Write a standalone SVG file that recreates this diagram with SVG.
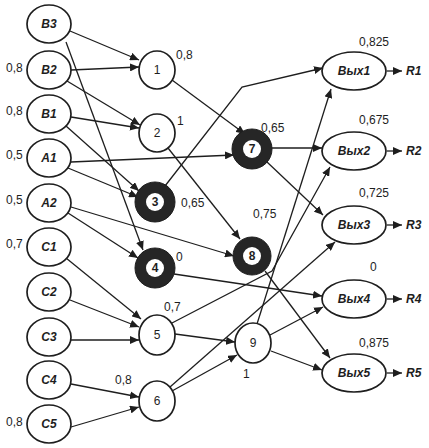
<svg xmlns="http://www.w3.org/2000/svg" width="429" height="448" viewBox="0 0 429 448">
<defs>
<marker id="ah" markerUnits="userSpaceOnUse" markerWidth="10" markerHeight="8" refX="9" refY="4" orient="auto">
<path d="M0,0 L9,4 L0,8 z" fill="#1e1e1e"/>
</marker>
<style>
.n{fill:#fff;stroke:#1e1e1e;stroke-width:1.7}
.d{fill:#262626;stroke:#1e1e1e;stroke-width:1}
.w{fill:#fff;stroke:none}
.c{fill:none;stroke:#1e1e1e;stroke-width:1.3;marker-end:url(#ah)}
.p{fill:none;stroke:#1e1e1e;stroke-width:1.3}
text{font-family:"Liberation Sans",Arial,sans-serif;font-size:12px;fill:#1e1e1e}
.bi{font-weight:bold;font-style:italic;text-anchor:middle}
.m{text-anchor:middle}
.b{font-weight:bold;text-anchor:middle}
.r{font-weight:bold;font-style:italic}
</style>
</defs>
<rect width="429" height="448" fill="#fff"/>
<g id="connectors">
<path class="c" d="M70,31 L139,60"/>
<path class="c" d="M71,70 L139,67"/>
<path class="c" d="M67,81 L140,125"/>
<path class="c" d="M71,117 L139,128"/>
<path class="c" d="M66,126 L139,191"/>
<path class="c" d="M66,42 L143,250"/>
<path class="c" d="M71,162 L234,155"/>
<path class="c" d="M68,168 L138,197"/>
<path class="c" d="M71,207 L234,256"/>
<path class="c" d="M68,213 L138,258"/>
<path class="c" d="M66,258 L141,319"/>
<path class="c" d="M70,300 L139,327"/>
<path class="c" d="M71,340 L139,340"/>
<path class="c" d="M71,384 L139,397"/>
<path class="c" d="M71,427 L139,407"/>
<path class="c" d="M172,80 L245,134"/>
<path class="c" d="M168,148 L240,239"/>
<path class="c" d="M165,186 L242,87 L323,68"/>
<path class="c" d="M174,274 L322,296"/>
<path class="c" d="M271,148 L322,148"/>
<path class="c" d="M267,162 L323,215"/>
<path class="c" d="M265,271 L330,358"/>
<path class="c" d="M172,323 L272,271 L330,167"/>
<path class="c" d="M175,334 L235,342"/>
<path class="c" d="M172,391 L237,355"/>
<path class="c" d="M170,387 L335,242"/>
<path class="c" d="M257,324 L331,89"/>
<path class="c" d="M270,335 L323,307"/>
<path class="c" d="M271,351 L322,370"/>
<path class="c" d="M387,71 L402,71"/>
<path class="c" d="M387,151 L402,151"/>
<path class="c" d="M387,225 L402,225"/>
<path class="c" d="M387,299 L402,299"/>
<path class="c" d="M387,373 L402,373"/>
</g>
<g id="B3"><ellipse class="n" cx="49" cy="24" rx="22" ry="19"/><text class="bi" x="49" y="28">B3</text></g>
<g id="B2"><ellipse class="n" cx="49" cy="70" rx="22" ry="19"/><text class="bi" x="49" y="74">B2</text></g>
<g id="B1"><ellipse class="n" cx="49" cy="114" rx="22" ry="19"/><text class="bi" x="49" y="118">B1</text></g>
<g id="A1"><ellipse class="n" cx="49" cy="158" rx="22" ry="19"/><text class="bi" x="49" y="162">A1</text></g>
<g id="A2"><ellipse class="n" cx="49" cy="203" rx="22" ry="19"/><text class="bi" x="49" y="207">A2</text></g>
<g id="C1"><ellipse class="n" cx="49" cy="247" rx="22" ry="19"/><text class="bi" x="49" y="251">C1</text></g>
<g id="C2"><ellipse class="n" cx="49" cy="292" rx="22" ry="19"/><text class="bi" x="49" y="296">C2</text></g>
<g id="C3"><ellipse class="n" cx="49" cy="337" rx="22" ry="19"/><text class="bi" x="49" y="341">C3</text></g>
<g id="C4"><ellipse class="n" cx="49" cy="380" rx="22" ry="19"/><text class="bi" x="49" y="384">C4</text></g>
<g id="C5"><ellipse class="n" cx="49" cy="424" rx="22" ry="19"/><text class="bi" x="49" y="428">C5</text></g>
<g id="N1"><ellipse class="n" cx="157" cy="70" rx="18" ry="19"/><text class="m" x="157" y="74">1</text></g>
<g id="N2"><ellipse class="n" cx="157" cy="133" rx="18" ry="19"/><text class="m" x="157" y="137">2</text></g>
<g id="N3"><circle class="d" cx="155" cy="202" r="20"/><circle class="w" cx="155" cy="202" r="9"/><text class="b" x="155" y="206">3</text></g>
<g id="N4"><circle class="d" cx="155" cy="268" r="20"/><circle class="w" cx="155" cy="268" r="9"/><text class="b" x="155" y="272">4</text></g>
<g id="N5"><ellipse class="n" cx="157" cy="335" rx="18" ry="20"/><text class="m" x="157" y="339">5</text></g>
<g id="N6"><ellipse class="n" cx="157" cy="401" rx="18" ry="20"/><text class="m" x="157" y="405">6</text></g>
<g id="N7"><circle class="d" cx="252" cy="149" r="20"/><circle class="w" cx="252" cy="149" r="9"/><text class="b" x="252" y="153">7</text></g>
<g id="N8"><circle class="d" cx="252" cy="256" r="19"/><circle class="w" cx="252" cy="256" r="9"/><text class="b" x="252" y="260">8</text></g>
<g id="N9"><ellipse class="n" cx="253" cy="343" rx="18" ry="20"/><text class="m" x="253" y="347">9</text></g>
<g id="Out1"><ellipse class="n" cx="354" cy="71" rx="32" ry="19"/><text class="bi" x="354" y="75">Вых1</text></g>
<g id="Out2"><ellipse class="n" cx="354" cy="151" rx="32" ry="19"/><text class="bi" x="354" y="155">Вых2</text></g>
<g id="Out3"><ellipse class="n" cx="354" cy="225" rx="32" ry="19"/><text class="bi" x="354" y="229">Вых3</text></g>
<g id="Out4"><ellipse class="n" cx="354" cy="299" rx="32" ry="19"/><text class="bi" x="354" y="303">Вых4</text></g>
<g id="Out5"><ellipse class="n" cx="354" cy="373" rx="32" ry="19"/><text class="bi" x="354" y="377">Вых5</text></g>
<g id="R">
<text class="r" x="406" y="75">R1</text>
<text class="r" x="406" y="155">R2</text>
<text class="r" x="406" y="229">R3</text>
<text class="r" x="406" y="303">R4</text>
<text class="r" x="406" y="377">R5</text>
</g>
<g id="weights">
<text x="6" y="72">0,8</text>
<text x="6" y="115">0,8</text>
<text x="6" y="159">0,5</text>
<text x="6" y="204">0,5</text>
<text x="6" y="248">0,7</text>
<text x="6" y="426">0,8</text>
<text x="176" y="59">0,8</text>
<text x="177" y="125">1</text>
<text x="261" y="132">0,65</text>
<text x="181" y="207">0,65</text>
<text x="253" y="218">0,75</text>
<text x="176" y="261">0</text>
<text x="164" y="311">0,7</text>
<text x="243" y="378">1</text>
<text x="115" y="384">0,8</text>
<text x="359" y="46">0,825</text>
<text x="359" y="124">0,675</text>
<text x="359" y="197">0,725</text>
<text x="370" y="271">0</text>
<text x="359" y="347">0,875</text>
</g>
</svg>
